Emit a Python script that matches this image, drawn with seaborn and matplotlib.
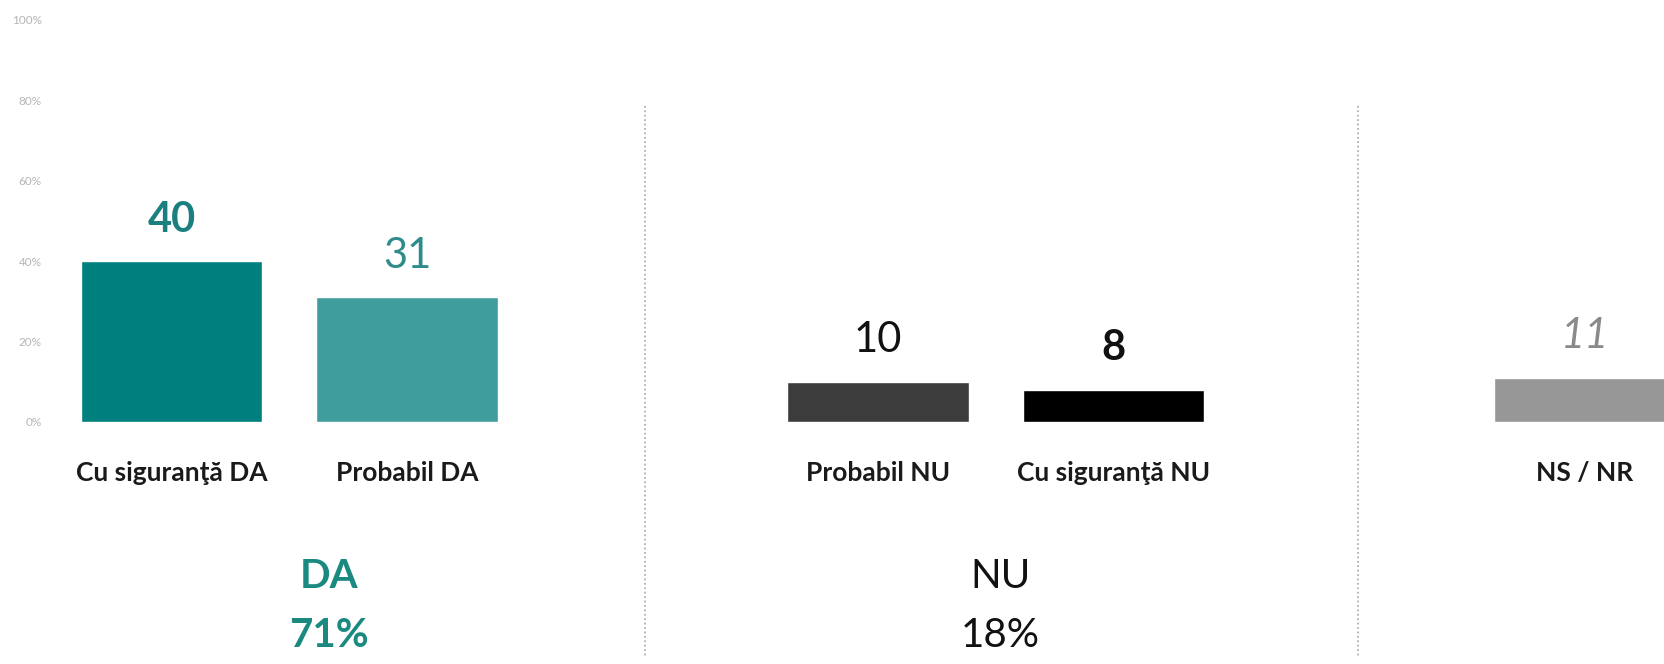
import pandas as pd
import matplotlib
matplotlib.use('Agg')
import matplotlib.pyplot as plt
import seaborn as sns

# data
categories = ['Cu siguranţă DA', 'Probabil DA', 'Probabil NU', 'Cu siguranţă NU', 'NS / NR']
values = [40, 31, 10, 8, 11]
positions = [0, 1, 3, 4, 6]
groups = ['DA', 'NU']
group_totals = [71, 18]

bar_colors = ['#007f7f', '#3f9d9d', '#3c3c3c', '#000000', '#979797']
label_colors = ['#1a7f7f', '#2f8c8c', '#111111', '#111111', '#8a8a8a']
label_weights = ['bold', 'normal', 'normal', 'bold', 'normal']
label_styles = ['normal', 'normal', 'normal', 'normal', 'italic']

df = pd.DataFrame({'pos': positions, 'value': values, 'cat': categories})

sns.set_theme(style='white')
plt.rcParams['font.family'] = ['Lato', 'DejaVu Sans']

fig = plt.figure(figsize=(16.65, 6.64), dpi=100)
ax = fig.add_axes([50 / 1665, 1 - 422 / 664, 1 - 50 / 1665, 402 / 664])

sns.barplot(data=df, x='pos', y='value', hue='cat', native_scale=True,
            palette=dict(zip(categories, bar_colors)), dodge=False,
            width=0.77, legend=False, ax=ax, saturation=1)

ax.set_xlim(-0.516, 6.342)
ax.set_ylim(0, 100)
sns.despine(ax=ax, left=True, bottom=True)

ax.set_yticks(range(0, 101, 20))
ax.set_yticklabels([f'{t}%' for t in range(0, 101, 20)], fontsize=8.5, color='#b5b5b5')
ax.set_xticks(positions)
ax.set_xticklabels(categories, fontsize=19, fontweight='bold', color='#1a1a1a')
ax.tick_params(axis='y', length=0, pad=6)
ax.tick_params(axis='x', length=0, pad=28)
ax.set_xlabel('')
ax.set_ylabel('')

# value labels above bars
for p, v, c, w, s in zip(positions, values, label_colors, label_weights, label_styles):
    ax.annotate(str(v), (p, v), xytext=(0, 30), textcoords='offset points',
                ha='center', va='center', fontsize=30, color=c,
                fontweight=w, fontstyle=s)

# group totals below
trans = ax.get_xaxis_transform()
ax.text(0.67, -0.385, groups[0], transform=trans, ha='center', va='center',
        fontsize=29, fontweight='bold', color='#1a8a80')
ax.text(0.67, -0.53, f'{group_totals[0]}%', transform=trans, ha='center', va='center',
        fontsize=29, fontweight='bold', color='#1a8a80')
ax.text(3.52, -0.385, groups[1], transform=trans, ha='center', va='center',
        fontsize=29, color='#111111')
ax.text(3.52, -0.53, f'{group_totals[1]}%', transform=trans, ha='center', va='center',
        fontsize=29, color='#111111')

# dotted separators
for sx in [2.01, 5.04]:
    ax.plot([sx, sx], [0.786, -0.587], transform=trans, clip_on=False,
            color='#a5a5a5', linestyle=':', linewidth=1.2)

fig.savefig('out.png', dpi=100)
